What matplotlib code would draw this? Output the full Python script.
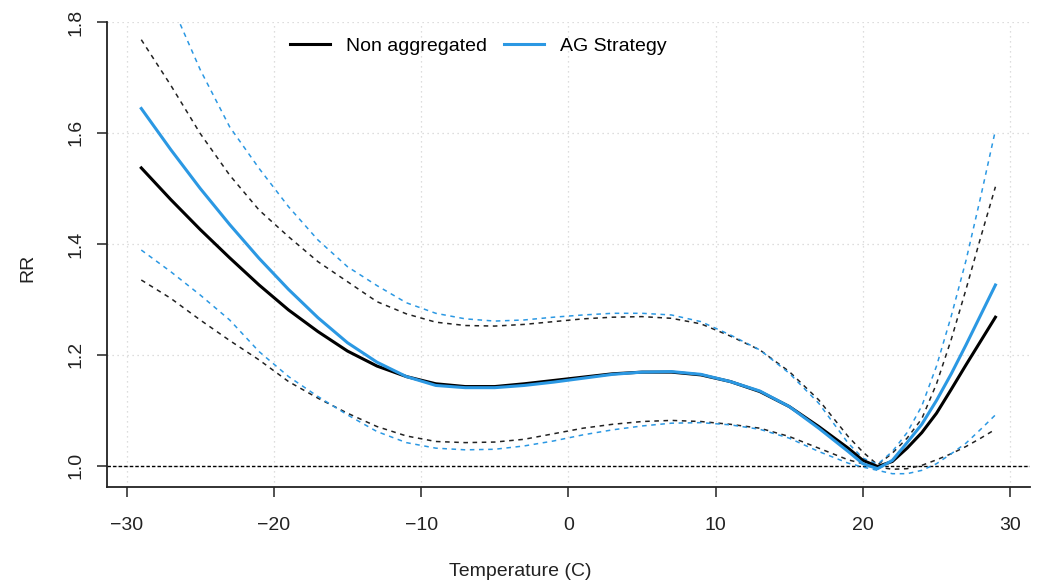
import numpy as np
import matplotlib
matplotlib.use("Agg")
from matplotlib import pyplot as plt

# temperature grid of the prediction (C)
temps = [-29, -27, -25, -23, -21, -19, -17, -15, -13, -11, -9, -7, -5, -3, -1,
         1, 3, 5, 7, 9, 11, 13, 15, 17, 19, 20, 21, 22, 23, 24, 25, 26, 27, 28, 29]

# Non aggregated: RR and 95% CI
rr_non = [1.537, 1.480, 1.426, 1.375, 1.326, 1.281, 1.242, 1.207, 1.180, 1.161,
          1.148, 1.143, 1.143, 1.148, 1.154, 1.160, 1.166, 1.169, 1.169, 1.164,
          1.152, 1.134, 1.107, 1.071, 1.032, 1.010, 0.999, 1.008, 1.032, 1.060,
          1.095, 1.138, 1.182, 1.225, 1.268]
hi_non = [1.768, 1.686, 1.599, 1.524, 1.461, 1.413, 1.368, 1.332, 1.296, 1.274,
          1.259, 1.253, 1.252, 1.255, 1.260, 1.265, 1.268, 1.269, 1.266, 1.256,
          1.234, 1.209, 1.170, 1.119, 1.053, 1.025, 1.002, 1.023, 1.050, 1.085,
          1.148, 1.228, 1.318, 1.412, 1.503]
lo_non = [1.335, 1.302, 1.263, 1.226, 1.191, 1.152, 1.122, 1.095, 1.071, 1.054,
          1.044, 1.042, 1.043, 1.048, 1.058, 1.068, 1.075, 1.080, 1.082, 1.080,
          1.075, 1.068, 1.053, 1.032, 1.011, 1.004, 0.998, 0.994, 0.995, 1.001,
          1.011, 1.022, 1.035, 1.050, 1.066]

# AG Strategy: RR and 95% CI
rr_ag = [1.644, 1.570, 1.500, 1.435, 1.374, 1.318, 1.267, 1.222, 1.187, 1.161,
         1.145, 1.141, 1.141, 1.145, 1.151, 1.158, 1.165, 1.169, 1.170, 1.165,
         1.152, 1.135, 1.107, 1.068, 1.026, 1.004, 0.995, 1.010, 1.042, 1.075,
         1.118, 1.166, 1.218, 1.272, 1.326]
hi_ag = [1.970, 1.835, 1.714, 1.611, 1.536, 1.467, 1.407, 1.359, 1.325, 1.294,
         1.275, 1.265, 1.261, 1.263, 1.268, 1.272, 1.275, 1.275, 1.272, 1.260,
         1.236, 1.209, 1.167, 1.113, 1.041, 1.014, 1.003, 1.026, 1.060, 1.108,
         1.180, 1.270, 1.370, 1.485, 1.605]
lo_ag = [1.389, 1.350, 1.308, 1.263, 1.206, 1.161, 1.125, 1.092, 1.062, 1.042,
         1.032, 1.029, 1.030, 1.036, 1.045, 1.056, 1.065, 1.072, 1.077, 1.078,
         1.074, 1.066, 1.050, 1.026, 1.005, 0.998, 0.992, 0.986, 0.986, 0.992,
         1.004, 1.022, 1.041, 1.066, 1.092]

xticks = [-30, -20, -10, 0, 10, 20, 30]
yticks = [1.0, 1.2, 1.4, 1.6, 1.8]

blue = "#2B98E3"
plt.rcParams["font.family"] = ["Liberation Sans", "DejaVu Sans"]

fig = plt.figure(figsize=(10.4, 5.85), dpi=100)
ax = fig.add_axes([0.103, 0.1675, 0.887, 0.795])

# grid
for x in xticks:
    ax.axvline(x, color="#D3D3D3", lw=0.9, ls=(0, (1, 3)), zorder=0)
for y in yticks:
    ax.axhline(y, color="#D3D3D3", lw=0.9, ls=(0, (1, 3)), zorder=0)

ax.axhline(1.0, color="black", lw=1.0, ls=(0, (2.5, 1.5)), zorder=1)

ax.plot(temps, hi_non, color="#222222", lw=1.1, ls=(0, (3, 3)))
ax.plot(temps, lo_non, color="#222222", lw=1.1, ls=(0, (3, 3)))
ax.plot(temps, hi_ag, color=blue, lw=1.1, ls=(0, (3, 3)))
ax.plot(temps, lo_ag, color=blue, lw=1.1, ls=(0, (3, 3)))
l1, = ax.plot(temps, rr_non, color="black", lw=2.2, label="Non aggregated")
l2, = ax.plot(temps, rr_ag, color=blue, lw=2.2, label="AG Strategy")

ax.set_xlim(-31.32, 31.32)
ax.set_ylim(0.962, 1.8)
ax.set_xticks(xticks)
ax.set_yticks(yticks)
ax.set_xticklabels([str(v).replace("-", "\u2212") for v in xticks])
ax.set_yticklabels(["%.1f" % v for v in yticks], rotation=90, va="center")

for s in ["top", "right"]:
    ax.spines[s].set_visible(False)
for s in ["left", "bottom"]:
    ax.spines[s].set_linewidth(1.3)
    ax.spines[s].set_color("#222222")
ax.tick_params(axis="both", length=7, width=1.1, color="#222222",
               labelsize=14, labelcolor="#222222")
ax.tick_params(axis="x", pad=14.5)
ax.tick_params(axis="y", pad=9)

fig.text(0.5, 1 - 571 / 585, "Temperature (C)", ha="center", va="center",
         fontsize=14, color="#222222")
fig.text(28 / 1040, 1 - 268 / 585, "RR", ha="center", va="center",
         rotation=90, fontsize=14, color="#222222")

fig.legend(handles=[l1, l2], loc="center left",
           bbox_to_anchor=(290 / 1040, 1 - 46 / 585), ncol=2, frameon=False,
           fontsize=14, handlelength=2.05, handletextpad=0.85,
           columnspacing=0.85, borderpad=0, borderaxespad=0)

fig.savefig("out.png", dpi=100)
